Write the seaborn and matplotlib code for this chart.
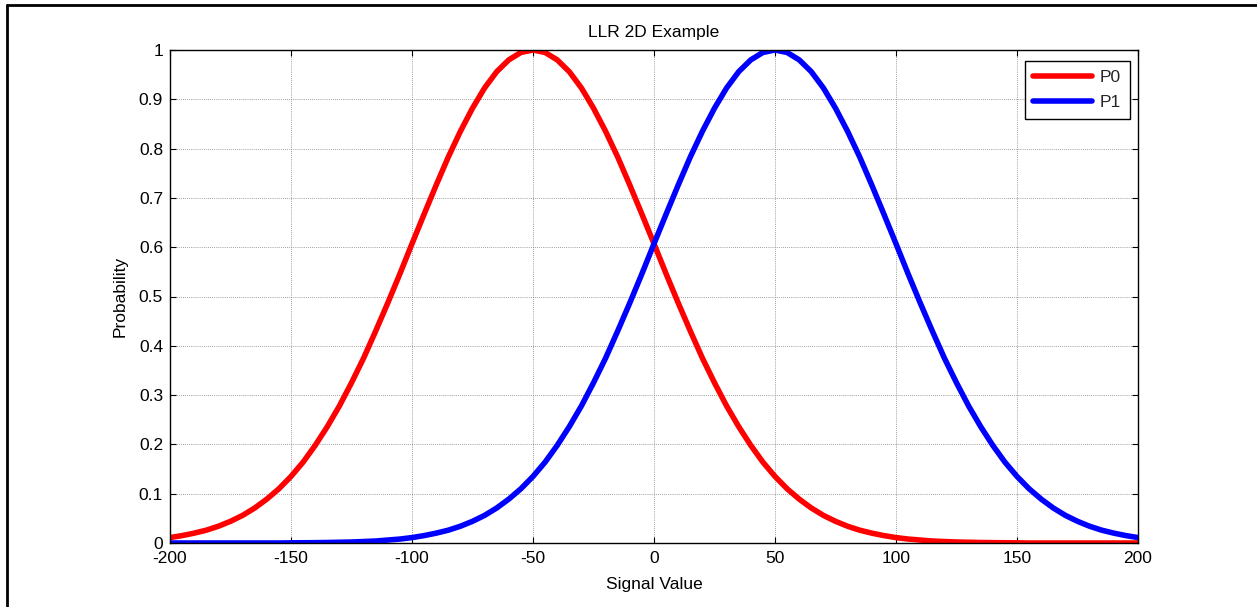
import numpy as np
import pandas as pd
import matplotlib
matplotlib.use("Agg")
import matplotlib.pyplot as plt
import seaborn as sns
from matplotlib.lines import Line2D

signal = list(range(-200, 205, 5))
p0 = [0.011, 0.015, 0.020, 0.026, 0.034, 0.044, 0.056, 0.071, 0.089, 0.110,
      0.135, 0.164, 0.198, 0.236, 0.278, 0.325, 0.375, 0.430, 0.487, 0.546,
      0.607, 0.667, 0.726, 0.783, 0.835, 0.882, 0.923, 0.956, 0.980, 0.995,
      1.000, 0.995, 0.980, 0.956, 0.923, 0.882, 0.835, 0.783, 0.726, 0.667,
      0.607, 0.546, 0.487, 0.430, 0.375, 0.325, 0.278, 0.236, 0.198, 0.164,
      0.135, 0.110, 0.089, 0.071, 0.056, 0.044, 0.034, 0.026, 0.020, 0.015,
      0.011, 0.008, 0.006, 0.004, 0.003, 0.002, 0.0015, 0.001, 0.0007, 0.0005,
      0.0003, 0.0, 0.0, 0.0, 0.0, 0.0, 0.0, 0.0, 0.0, 0.0, 0.0]
p1 = [0.0, 0.0, 0.0, 0.0, 0.0, 0.0, 0.0, 0.0, 0.0, 0.0,
      0.0003, 0.0005, 0.0007, 0.001, 0.0015, 0.002, 0.003, 0.004, 0.006, 0.008,
      0.011, 0.015, 0.020, 0.026, 0.034, 0.044, 0.056, 0.071, 0.089, 0.110,
      0.135, 0.164, 0.198, 0.236, 0.278, 0.325, 0.375, 0.430, 0.487, 0.546,
      0.607, 0.667, 0.726, 0.783, 0.835, 0.882, 0.923, 0.956, 0.980, 0.995,
      1.000, 0.995, 0.980, 0.956, 0.923, 0.882, 0.835, 0.783, 0.726, 0.667,
      0.607, 0.546, 0.487, 0.430, 0.375, 0.325, 0.278, 0.236, 0.198, 0.164,
      0.135, 0.110, 0.089, 0.071, 0.056, 0.044, 0.034, 0.026, 0.020, 0.015,
      0.011]
series_names = ["P0", "P1"]
colors = ["#ff0000", "#0000ff"]
x_ticks = [-200, -150, -100, -50, 0, 50, 100, 150, 200]
y_ticks = [0, 0.1, 0.2, 0.3, 0.4, 0.5, 0.6, 0.7, 0.8, 0.9, 1]
y_labels = ["0", "0.1", "0.2", "0.3", "0.4", "0.5", "0.6", "0.7", "0.8", "0.9", "1"]
x_labels = ["-200", "-150", "-100", "-50", "0", "50", "100", "150", "200"]

df = pd.DataFrame({
    "Signal Value": signal * 2,
    "Probability": p0 + p1,
    "series": [series_names[0]] * len(p0) + [series_names[1]] * len(p1),
})

FS = 12.5
sns.set_theme(style="white")
plt.rcParams["font.family"] = ["Liberation Sans", "DejaVu Sans"]
plt.rcParams["font.size"] = FS

fig = plt.figure(figsize=(12.57, 6.07), dpi=100)
ax = fig.add_axes([170/1257, 1-543/607, (1138-170)/1257, (543-50)/607])

sns.lineplot(data=df, x="Signal Value", y="Probability", hue="series",
             palette=colors, linewidth=4.0, ax=ax, legend=False)

ax.set_xlim(-200, 200)
ax.set_ylim(0, 1)
ax.set_xticks(x_ticks)
ax.set_xticklabels(x_labels)
ax.set_yticks(y_ticks)
ax.set_yticklabels(y_labels)
ax.grid(True, color="#808080", linestyle=(0, (1, 1.5)), linewidth=0.6)
ax.set_axisbelow(True)
ax.tick_params(direction="in", length=4, width=0.8, colors="black",
               top=True, right=True, bottom=True, left=True,
               labelsize=FS)
ax.tick_params(axis="x", pad=6)
ax.tick_params(axis="y", pad=5)
for s in ax.spines.values():
    s.set_color("black")
    s.set_linewidth(1.0)
    s.set_visible(True)
ax.set_xlabel("Signal Value", fontsize=FS, color="black", labelpad=8)
ax.set_ylabel("Probability", fontsize=FS, color="black", labelpad=8)
ax.set_title("LLR 2D Example", fontsize=FS, color="black", pad=9)

handles = [Line2D([0], [0], color=c, linewidth=4.0) for c in colors]
leg = ax.legend(handles, series_names, loc="upper right",
                bbox_to_anchor=(1 - 8/968, 1 - 11/493), frameon=True,
                fancybox=False, shadow=False, fontsize=FS,
                handlelength=3.4, handletextpad=0.45, borderpad=0.5,
                labelspacing=0.6, borderaxespad=0)
leg.get_frame().set_edgecolor("black")
leg.get_frame().set_linewidth(1.0)
leg.get_frame().set_alpha(1)

fig.add_artist(Line2D([7/1257, 1], [1-5/607, 1-5/607], transform=fig.transFigure,
                      color="black", linewidth=2))
fig.add_artist(Line2D([7/1257, 7/1257], [0, 1-5/607], transform=fig.transFigure,
                      color="black", linewidth=2))

fig.savefig("out.png", dpi=100, facecolor="white")
